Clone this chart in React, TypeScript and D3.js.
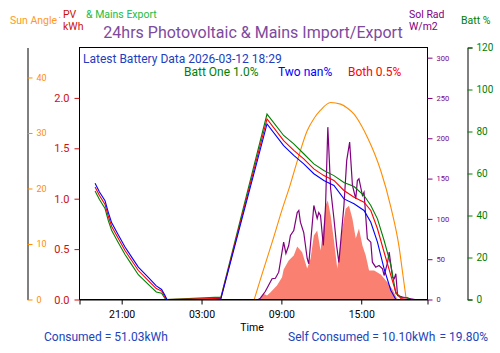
import { useEffect, useRef } from 'react'
import * as d3 from 'd3'

const FONT = 'Roboto, sans-serif'

// hours counted from 2026-03-11 00:00
const battHours = [19.0, 19.33, 19.75, 20.0, 20.25, 20.75, 21.25, 21.75, 22.25, 23.0, 23.6, 24.0, 24.25, 24.4, 28.0, 28.45,
  31.92, 33.17, 33.93, 34.68, 35.44, 36.19, 36.95, 37.7, 38.46, 39.21, 39.72, 40.22, 40.72, 41.23, 41.6, 41.98, 42.5, 42.6]
const battOne = [51.7, 47.6, 43.3, 37.5, 32.8, 27.0, 21.4, 16.6, 11.8, 7.2, 3.6, 3.0, 0.5, 0, 1.0, 1.0,
  88.3, 78.1, 74.1, 69.4, 64.6, 61.4, 59.0, 55.7, 53.8, 49.5, 44.8, 38.4, 28.1, 16.2, 2.9, 1.1, 0.8, 0]
const battBoth = [53.6, 49.5, 45.2, 39.5, 34.8, 29.0, 23.3, 18.6, 13.8, 9.0, 5.2, 4.0, 1.2, 0, 0.5, 0.5,
  86.0, 75.7, 71.0, 67.0, 62.2, 59.0, 56.7, 51.9, 48.7, 46.3, 42.4, 33.7, 22.5, 11.4, 3.5, 0.5, 0, 0]
const battTwo = [55.4, 51.2, 47.0, 41.4, 36.5, 30.7, 25.0, 20.2, 15.4, 10.5, 6.5, 4.8, 2.0, 0, 0, 0.2,
  83.6, 73.3, 68.6, 64.6, 59.9, 56.7, 54.3, 47.9, 45.6, 42.4, 36.8, 27.3, 14.6, 4.3, 0, 0, 0, 0]

const sunHours = [30.96, 31.5, 32.0, 32.42, 33.0, 33.68, 34.3, 34.94, 35.45, 35.94, 36.7, 37.45, 38.0, 38.46, 39.0,
  39.47, 40.0, 40.47, 41.23, 41.85, 42.1, 42.36]
const sunAngle = [0, 4.2, 8.0, 11.2, 15.8, 20.8, 25.8, 30.4, 32.6, 34.1, 35.5, 35.2, 34.4, 33.4, 31.4,
  29.2, 26.3, 23.2, 16.6, 9.4, 5.0, 0.4]

const radHours = [19.0, 31.26, 31.42, 31.79, 32.3, 32.55, 32.8, 33.17, 33.34, 33.55, 33.68, 33.93, 34.19, 34.31, 34.43,
  34.68, 34.94, 35.06, 35.44, 35.69, 35.81, 35.94, 36.15, 36.32, 36.49, 36.7, 36.95, 37.15, 37.32, 37.7, 37.91,
  38.13, 38.34, 38.59, 38.71, 38.83, 39.09, 39.21, 39.46, 39.72, 39.84, 40.09, 40.34, 40.6, 40.72, 40.98, 41.1,
  41.35, 41.48, 41.6, 41.73, 42.11, 42.74, 43.04]
const solRad = [0, 0, 1.6, 9.9, 25.7, 26.4, 33.9, 71.1, 57.1, 67.0, 79.4, 85.6, 107.9, 110.4, 95.9,
  83.1, 50.9, 44.3, 116.6, 100.5, 107.9, 104.2, 67.0, 116.6, 213.8, 137.3, 100.1, 67.0, 45.9, 116.6, 172.5,
  195.2, 141.4, 124.9, 147.6, 149.8, 129.0, 133.1, 75.3, 71.1, 46.3, 40.1, 42.2, 38.1, 29.8, 45.9, 58.7,
  27.7, 25.7, 31.9, 5.0, 2.9, 0.9, 0]

const pvHours = [31.42, 31.66, 31.92, 32.17, 32.67, 33.05, 33.17, 33.55, 33.93, 34.19, 34.56, 34.94, 35.19, 35.44,
  35.69, 35.94, 36.15, 36.32, 36.49, 36.7, 36.95, 37.2, 37.58, 37.83, 38.08, 38.34, 38.59, 38.83, 39.09, 39.34,
  39.59, 39.97, 40.47, 40.98, 41.35, 41.73]
const pvKwh = [0, 0.057, 0.04, 0.069, 0.139, 0.221, 0.298, 0.387, 0.437, 0.526, 0.469, 0.308, 0.404, 0.636,
  0.685, 0.486, 0.701, 0.933, 0.982, 0.833, 0.585, 0.308, 0.701, 0.9, 0.93, 0.8, 0.605, 0.704, 0.536, 0.437,
  0.288, 0.288, 0.248, 0.169, 0.099, 0]

const timeTicks = [21, 27, 33, 39]
const sunTicks = [0, 10, 20, 30, 40]
const pvTicks = [0, 0.5, 1, 1.5, 2]
const radTicks = [0, 50, 100, 150, 200, 250, 300]
const battTicks = [0, 20, 40, 60, 80, 100, 120]

export default function App() {
  const ref = useRef<SVGSVGElement>(null)

  useEffect(() => {
    if (!ref.current) return
    const svg = d3.select(ref.current)
    svg.selectAll('*').remove()

    const left = 79.5, right = 427.5, top = 47.5, bottom = 299.5
    const base = new Date(2026, 2, 11).getTime()
    const toDate = (h: number) => new Date(base + h * 3600000)

    const x = d3.scaleTime().domain([toDate(17.83), toDate(43.98)]).range([left, right])
    const yPv = d3.scaleLinear().domain([0, 2.5]).range([bottom, top])
    const ySun = d3.scaleLinear().domain([0, 45.4]).range([bottom, top])
    const yRad = d3.scaleLinear().domain([0, 312.6]).range([bottom, top])
    const yBatt = d3.scaleLinear().domain([0, 120]).range([bottom, top])

    // pv area
    const area = d3.area<number>()
      .x((_, i) => x(toDate(pvHours[i])))
      .y0(bottom)
      .y1(d => yPv(d))
    svg.append('path').attr('d', area(pvKwh)).attr('fill', 'salmon')

    const drawLine = (hours: number[], vals: number[], y: d3.ScaleLinear<number, number>, color: string, curve = d3.curveLinear, w = 1.1) => {
      const line = d3.line<number>()
        .x((_, i) => x(toDate(hours[i])))
        .y(d => y(d))
        .curve(curve)
      svg.append('path').attr('d', line(vals)).attr('fill', 'none')
        .attr('stroke', color).attr('stroke-width', w)
    }

    drawLine(sunHours, sunAngle, ySun, 'darkorange', d3.curveMonotoneX)
    drawLine(radHours, solRad, yRad, 'purple', d3.curveLinear, 1.2)
    drawLine(battHours, battOne, yBatt, 'green')
    drawLine(battHours, battBoth, yBatt, 'red')
    drawLine(battHours, battTwo, yBatt, 'blue')

    // frame
    svg.append('rect')
      .attr('x', left).attr('y', top)
      .attr('width', right - left).attr('height', bottom - top)
      .attr('fill', 'none').attr('stroke', 'black')

    const styleAxis = (g: d3.Selection<SVGGElement, unknown, null, undefined>, color: string, size: number, domain = true) => {
      g.selectAll('.tick line').attr('stroke', color)
      g.selectAll('.tick text').attr('fill', color).style('font-size', `${size}px`).style('font-family', FONT)
      if (!domain) g.select('.domain').remove()
      else g.select('.domain').attr('stroke', 'black')
    }

    // x axis
    const gx = svg.append('g').attr('transform', `translate(0,${bottom})`)
      .call(d3.axisBottom(x).tickValues(timeTicks.map(toDate)).tickSize(5).tickPadding(6)
        .tickFormat(d => d3.timeFormat('%H:%M')(d as Date)))
    styleAxis(gx, 'black', 10.5)

    // pv axis
    const gPv = svg.append('g').attr('transform', `translate(${left},0)`)
      .call(d3.axisLeft(yPv).tickValues(pvTicks).tickSize(5).tickPadding(5).tickFormat(d3.format('.1f')))
    styleAxis(gPv, '#cc1111', 11, false)

    // sun angle axis
    const gSun = svg.append('g').attr('transform', 'translate(27.5,0)')
      .call(d3.axisRight(ySun).tickValues(sunTicks).tickSize(5).tickSizeOuter(0).tickPadding(4))
    styleAxis(gSun, 'darkorange', 9)

    // sol rad axis
    const gRad = svg.append('g').attr('transform', `translate(${right},0)`)
      .call(d3.axisRight(yRad).tickValues(radTicks).tickSize(5).tickPadding(4))
    styleAxis(gRad, 'purple', 7.5, false)

    // batt axis
    const gBatt = svg.append('g').attr('transform', 'translate(467.5,0)')
      .call(d3.axisRight(yBatt).tickValues(battTicks).tickSize(5).tickPadding(4))
    styleAxis(gBatt, 'green', 10)

    const label = (t: string, lx: number, ly: number, color: string, size: number, anchor = 'start') => {
      svg.append('text').attr('x', lx).attr('y', ly).text(t)
        .attr('fill', color).attr('text-anchor', anchor)
        .style('font-size', `${size}px`).style('font-family', FONT)
    }

    label('24hrs Photovoltaic & Mains Import/Export', 253, 38, '#7d4a9e', 16, 'middle')
    label('Sun Angle', 10, 24, '#ff9922', 10.5)
    label('.', 58.5, 18, '#ff9922', 10)
    label('PV', 63, 17.5, '#cc1111', 10.5)
    label('kWh', 63, 30, '#cc1111', 10.5)
    label('& Mains Export', 86, 18, '#22bb44', 10.5)
    label('Sol Rad', 409, 17.5, 'purple', 10.5)
    label('W/m2', 409, 30, 'purple', 10.5)
    label('Batt %', 461, 24, 'green', 10.5)

    label('Latest Battery Data 2026-03-12 18:29', 83, 63, '#2040c0', 12)
    label('Batt One 1.0%', 184, 76, 'green', 12)
    label('Two nan%', 278, 76, 'blue', 12)
    label('Both 0.5%', 348, 76, 'red', 12)

    label('Time', 252, 331, 'black', 10.5, 'middle')
    label('Consumed = 51.03kWh', 44, 341, '#2244bb', 12)
    label('Self Consumed = 10.10kWh', 288, 341, '#2244bb', 12)
    label('= 19.80%', 488, 341, '#2244bb', 12, 'end')
  }, [])

  return <svg ref={ref} width={500} height={353}
    style={{ position: 'absolute', left: 0, top: 0, background: 'white' }} />
}
